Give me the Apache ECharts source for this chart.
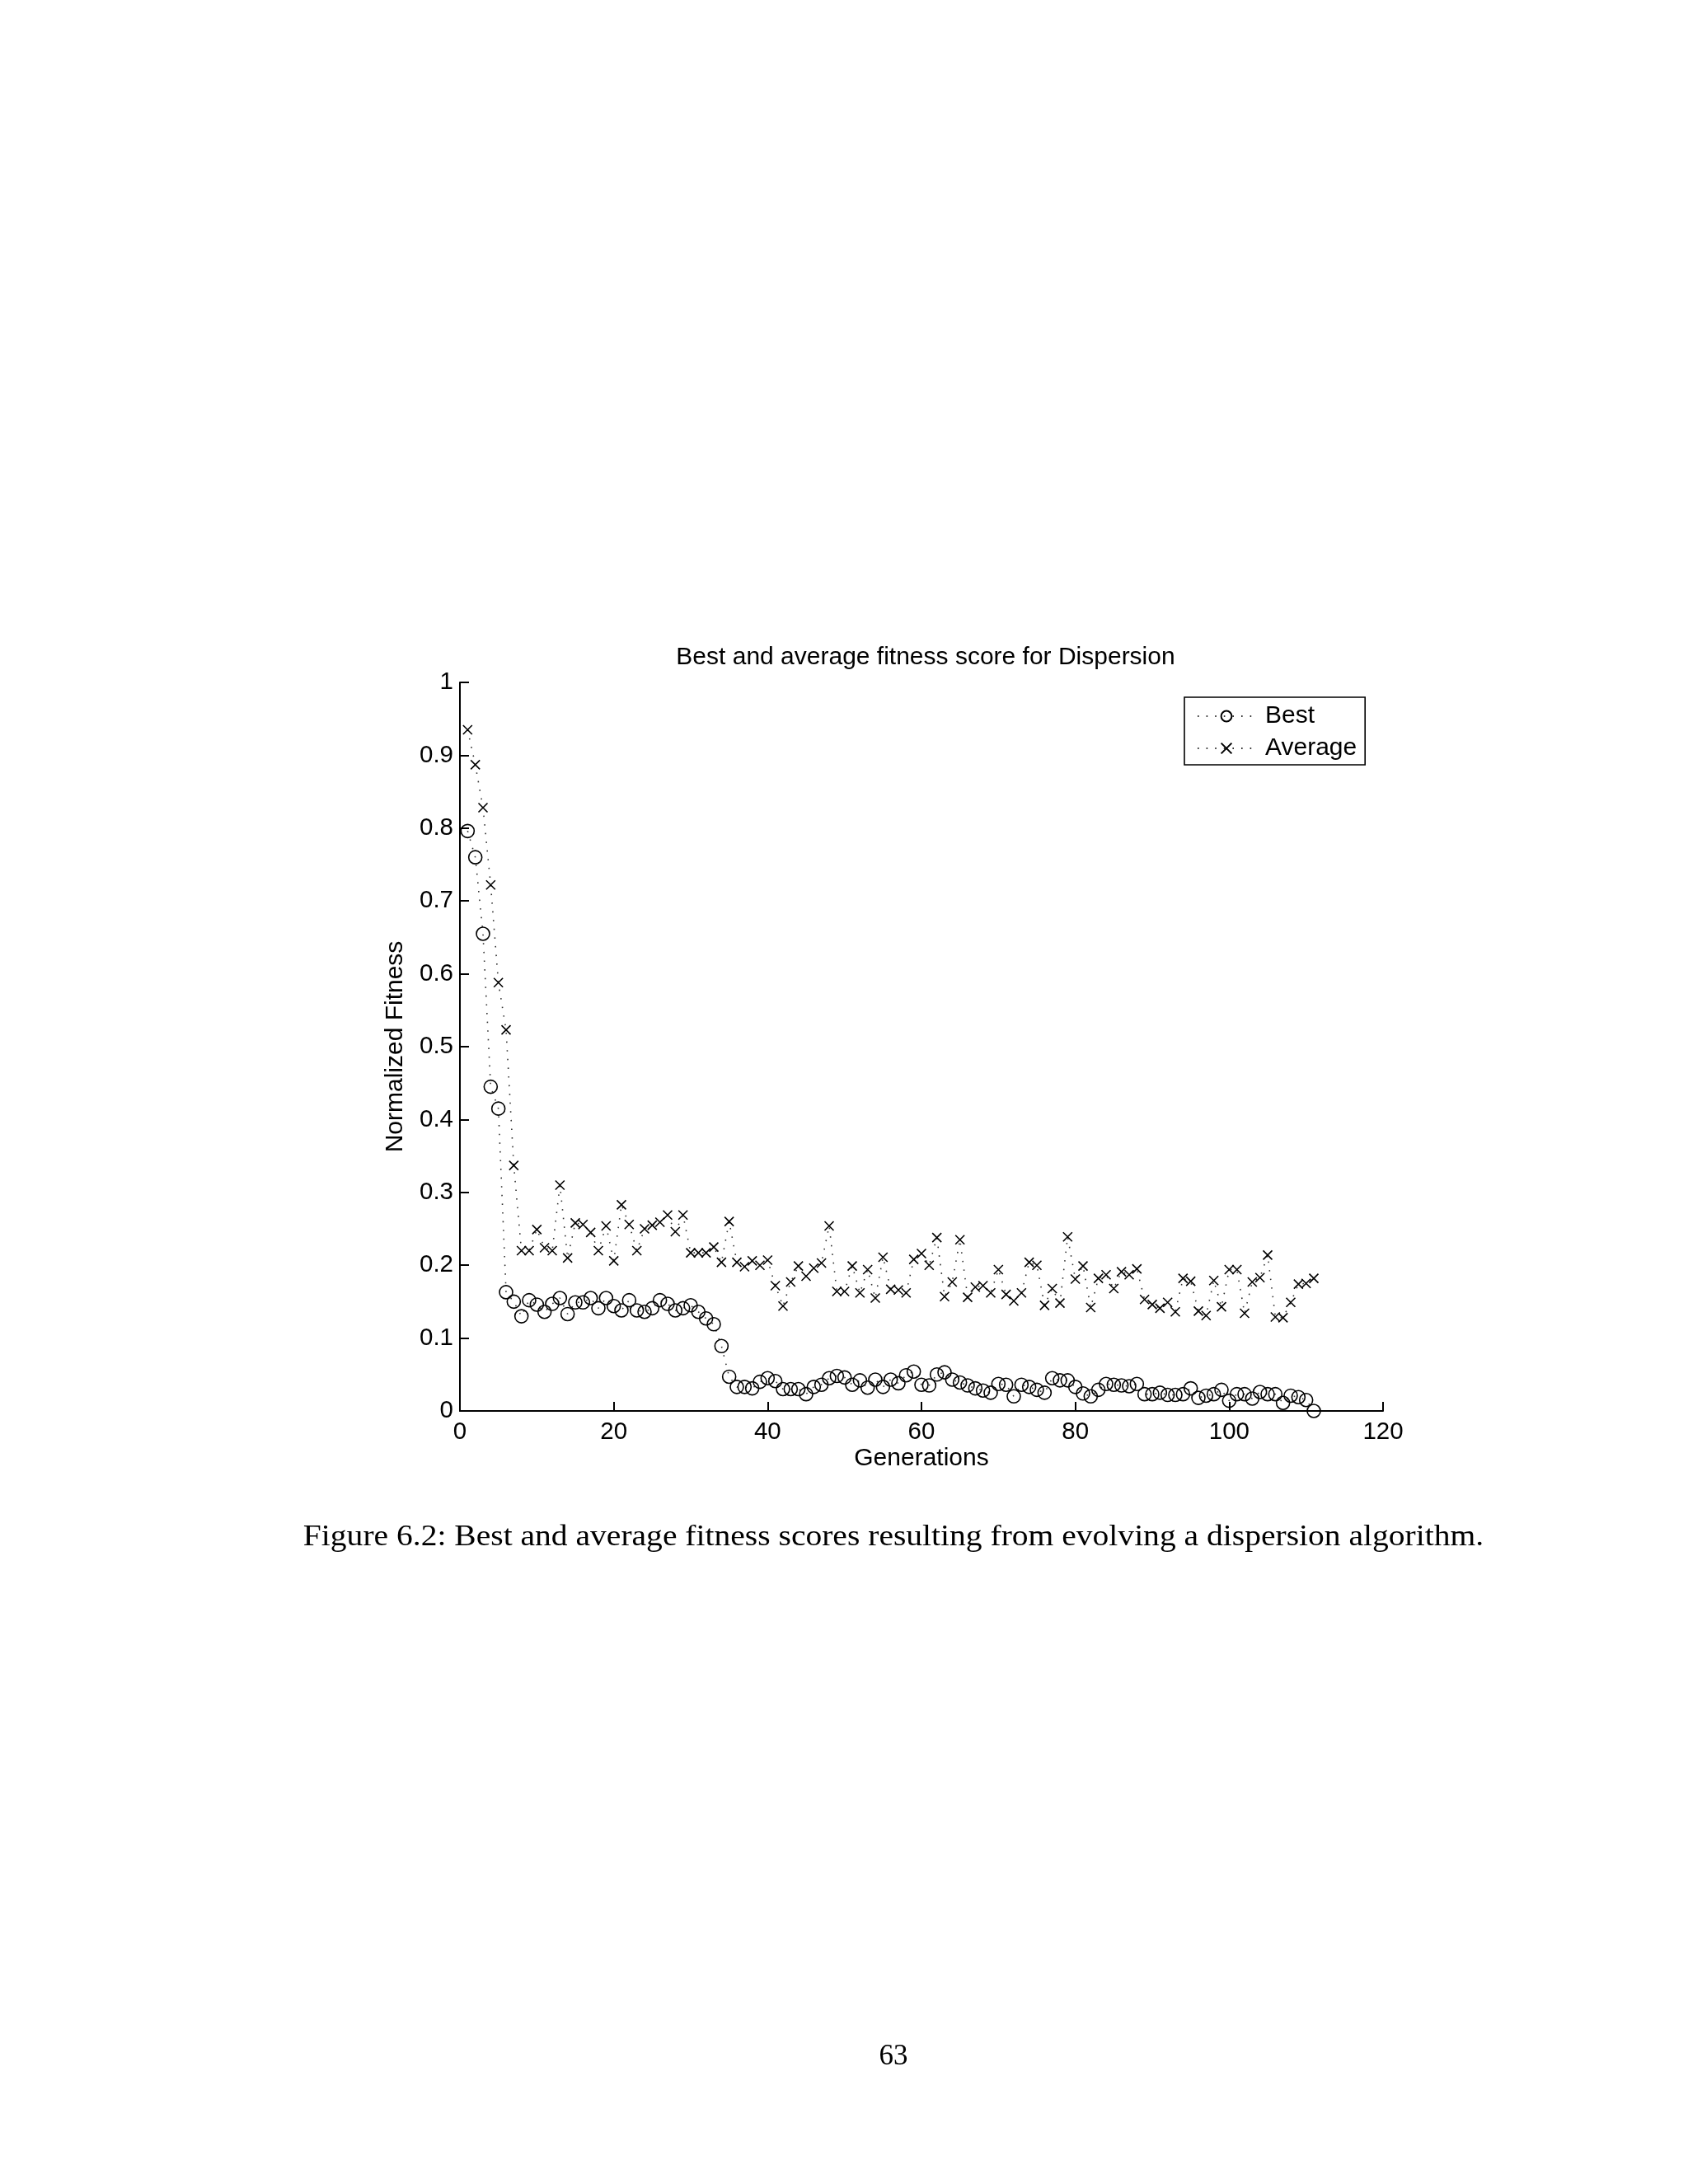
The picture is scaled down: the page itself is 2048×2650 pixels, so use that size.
<!DOCTYPE html>
<html>
<head>
<meta charset="utf-8">
<script src="https://cdn.jsdelivr.net/npm/echarts@6/dist/echarts.min.js"></script>
<style>
  html, body { margin: 0; padding: 0; background: #fff; }
  #chart { width: 2048px; height: 2650px; }
</style>
</head>
<body>
<div id="chart"></div>
<script>
// best fitness per generation (generation = index + 1)
const bestFitness = [
  0.796, 0.760, 0.655, 0.445, 0.415, 0.163, 0.150, 0.130, 0.152, 0.146,
  0.136, 0.147, 0.155, 0.133, 0.149, 0.149, 0.155, 0.141, 0.155, 0.144,
  0.138, 0.152, 0.138, 0.136, 0.141, 0.152, 0.147, 0.138, 0.141, 0.145,
  0.136, 0.127, 0.119, 0.089, 0.047, 0.033, 0.033, 0.031, 0.040, 0.045,
  0.041, 0.030, 0.030, 0.030, 0.023, 0.033, 0.036, 0.045, 0.048, 0.046,
  0.036, 0.042, 0.032, 0.043, 0.033, 0.043, 0.038, 0.049, 0.054, 0.036,
  0.035, 0.050, 0.053, 0.043, 0.039, 0.035, 0.031, 0.028, 0.025, 0.037,
  0.036, 0.020, 0.036, 0.033, 0.029, 0.025, 0.045, 0.042, 0.042, 0.033,
  0.024, 0.020, 0.029, 0.037, 0.036, 0.035, 0.034, 0.037, 0.023, 0.023,
  0.025, 0.022, 0.022, 0.023, 0.031, 0.018, 0.021, 0.023, 0.029, 0.014,
  0.023, 0.023, 0.017, 0.026, 0.023, 0.023, 0.011, 0.021, 0.019, 0.015,
  0.000
];
// average fitness per generation
const avgFitness = [
  0.935, 0.887, 0.828, 0.722, 0.588, 0.523, 0.337, 0.220, 0.220, 0.249,
  0.224, 0.220, 0.310, 0.210, 0.258, 0.256, 0.245, 0.220, 0.254, 0.206,
  0.283, 0.256, 0.220, 0.250, 0.255, 0.259, 0.269, 0.246, 0.269, 0.217,
  0.217, 0.217, 0.225, 0.204, 0.260, 0.204, 0.198, 0.206, 0.200, 0.207,
  0.172, 0.144, 0.177, 0.199, 0.185, 0.196, 0.203, 0.254, 0.164, 0.164,
  0.199, 0.162, 0.194, 0.155, 0.211, 0.167, 0.166, 0.162, 0.208, 0.216,
  0.200, 0.238, 0.157, 0.177, 0.235, 0.156, 0.170, 0.172, 0.162, 0.194,
  0.160, 0.151, 0.162, 0.204, 0.200, 0.145, 0.168, 0.148, 0.239, 0.181,
  0.199, 0.142, 0.182, 0.187, 0.168, 0.191, 0.187, 0.195, 0.153, 0.146,
  0.141, 0.149, 0.136, 0.182, 0.178, 0.137, 0.131, 0.179, 0.143, 0.194,
  0.194, 0.134, 0.177, 0.183, 0.214, 0.129, 0.128, 0.149, 0.174, 0.175,
  0.182
];
const seriesNames = ['Best', 'Average'];
const chartTitle = 'Best and average fitness score for Dispersion';
const xLabel = 'Generations';
const yLabel = 'Normalized Fitness';
const captionText = 'Figure 6.2: Best and average fitness scores resulting from evolving a dispersion algorithm.';
const pageNumber = '63';

const SANS = '"Liberation Sans", Arial, Helvetica, sans-serif';
const SERIF = '"Liberation Serif", "Times New Roman", serif';

const toPairs = (arr) => arr.map((v, i) => [i + 1, v]);

const dotted = { color: '#333', width: 1.6, type: [1.6, 9] };

const chart = echarts.init(document.getElementById('chart'));
chart.setOption({
  animation: false,
  backgroundColor: '#fff',
  title: {
    text: chartTitle,
    left: 1118,
    top: 778,
    textAlign: 'center',
    textStyle: { fontFamily: SANS, fontSize: 30, fontWeight: 'normal', color: '#000' }
  },
  grid: { left: 558, right: 370, top: 828, bottom: 938, containLabel: false },
  legend: {
    left: 1437,
    top: 846,
    orient: 'vertical',
    itemWidth: 70,
    itemHeight: 16,
    itemGap: 9,
    padding: [8, 10, 5, 15],
    borderColor: '#000',
    borderWidth: 1.6,
    backgroundColor: '#fff',
    textStyle: { fontFamily: SANS, fontSize: 30, color: '#000', padding: [0, 0, 0, 7] },
    data: seriesNames
  },
  xAxis: {
    type: 'value',
    min: 0,
    max: 120,
    interval: 20,
    name: xLabel,
    nameLocation: 'middle',
    nameGap: 43,
    nameTextStyle: { fontFamily: SANS, fontSize: 30, color: '#000' },
    axisLine: { onZero: false, lineStyle: { color: '#000', width: 2 } },
    axisTick: { inside: true, length: 11, lineStyle: { color: '#000', width: 2 } },
    axisLabel: { fontFamily: SANS, fontSize: 29.5, color: '#000', margin: 11 },
    splitLine: { show: false }
  },
  yAxis: {
    type: 'value',
    min: 0,
    max: 1,
    interval: 0.1,
    name: yLabel,
    nameLocation: 'middle',
    nameGap: 63,
    nameRotate: 90,
    nameTextStyle: { fontFamily: SANS, fontSize: 30, color: '#000' },
    axisLine: { show: true, onZero: false, lineStyle: { color: '#000', width: 2 } },
    axisTick: { show: true, inside: true, length: 11, lineStyle: { color: '#000', width: 2 } },
    axisLabel: { fontFamily: SANS, fontSize: 29.5, color: '#000', margin: 8 },
    splitLine: { show: false }
  },
  series: [
    {
      name: seriesNames[0],
      type: 'line',
      data: toPairs(bestFitness),
      symbol: 'circle',
      symbolSize: 16,
      showAllSymbol: true,
      lineStyle: dotted,
      itemStyle: { color: 'rgba(0,0,0,0)', borderColor: '#000', borderWidth: 1.6 },
      emphasis: { disabled: true },
      z: 3
    },
    {
      name: seriesNames[1],
      type: 'line',
      data: toPairs(avgFitness),
      symbol: 'path://M0,0L10,10M10,0L0,10',
      symbolSize: 11,
      showAllSymbol: true,
      lineStyle: dotted,
      itemStyle: { color: 'rgba(0,0,0,0)', borderColor: '#000', borderWidth: 1.6 },
      emphasis: { disabled: true },
      z: 3
    }
  ],
  graphic: [
    {
      type: 'text',
      x: 1084,
      y: 1866,
      scaleX: 1.13,
      style: { text: captionText, font: '35px ' + SERIF, fill: '#000', textAlign: 'center', textVerticalAlign: 'middle' }
    },
    {
      type: 'text',
      x: 1084,
      y: 2496,
      style: { text: pageNumber, font: '35px ' + SERIF, fill: '#000', textAlign: 'center', textVerticalAlign: 'middle' }
    }
  ]
});
</script>
</body>
</html>
